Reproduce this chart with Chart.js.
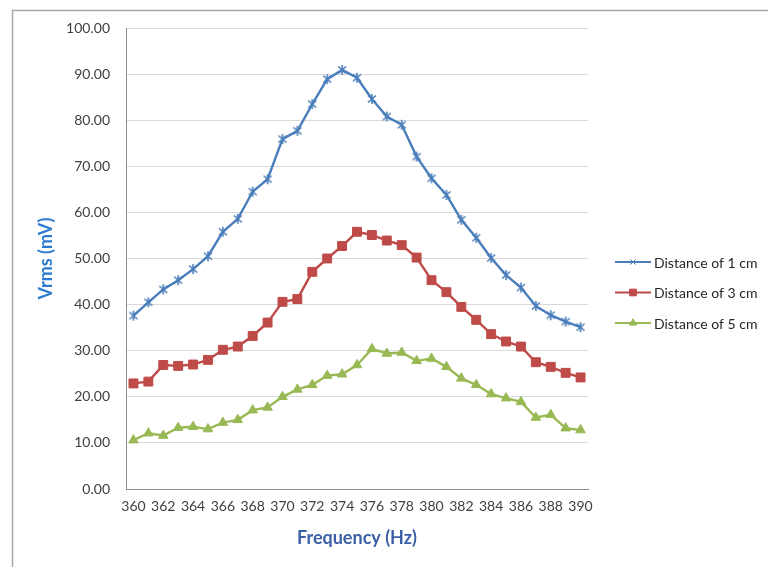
<!DOCTYPE html>
<html>
<head>
<meta charset="utf-8">
<title>Vrms vs Frequency</title>
<script src="https://cdn.jsdelivr.net/npm/chart.js@4/dist/chart.umd.min.js"></script>
<style>
  html, body { margin: 0; padding: 0; background: #fff; }
  #wrap { position: relative; width: 768px; height: 567px; }
</style>
</head>
<body>
<div id="wrap"><canvas id="chart" width="768" height="567"></canvas></div>
<script>
// frequency in Hz, one point per Hz
const frequencies = [360, 361, 362, 363, 364, 365, 366, 367, 368, 369, 370, 371, 372, 373, 374, 375,
  376, 377, 378, 379, 380, 381, 382, 383, 384, 385, 386, 387, 388, 389, 390];

// Vrms in mV
const dist1cm = [37.6, 40.5, 43.3, 45.3, 47.7, 50.5, 55.8, 58.6, 64.5, 67.2, 75.9, 77.7, 83.5, 88.9, 90.9, 89.2,
  84.6, 80.8, 79.0, 72.1, 67.4, 63.8, 58.4, 54.5, 50.1, 46.4, 43.7, 39.7, 37.7, 36.3, 35.1];
const dist3cm = [22.9, 23.3, 26.9, 26.7, 27.0, 28.0, 30.2, 30.9, 33.2, 36.1, 40.6, 41.2, 47.1, 50.0, 52.7, 55.8,
  55.1, 53.9, 52.9, 50.2, 45.3, 42.7, 39.5, 36.7, 33.6, 32.0, 30.9, 27.5, 26.5, 25.2, 24.2];
const dist5cm = [10.6, 12.1, 11.6, 13.3, 13.5, 13.0, 14.4, 15.0, 17.1, 17.7, 20.0, 21.6, 22.6, 24.6, 24.9, 26.9,
  30.4, 29.4, 29.6, 27.8, 28.3, 26.5, 24.0, 22.6, 20.6, 19.7, 18.9, 15.5, 16.1, 13.2, 12.8];

const seriesLabels = ['Distance of 1 cm', 'Distance of 3 cm', 'Distance of 5 cm'];
const yTicks = { min: 0, max: 100, step: 10 };

const FONT = 'Lato, "Open Sans", sans-serif';

// Excel "star" marker: an x with a vertical bar through it
function starMarker(color, size) {
  const c = document.createElement('canvas');
  c.width = c.height = size;
  const g = c.getContext('2d');
  const m = size / 2, r = size / 2 - 1;
  g.strokeStyle = color;
  g.lineWidth = 1.6;
  g.beginPath();
  g.moveTo(m - r * 0.8, m - r * 0.7); g.lineTo(m + r * 0.8, m + r * 0.7);
  g.moveTo(m + r * 0.8, m - r * 0.7); g.lineTo(m - r * 0.8, m + r * 0.7);
  g.moveTo(m, m - r); g.lineTo(m, m + r);
  g.stroke();
  return c;
}

// grey outline round the whole chart, as in the screenshot
const framePlugin = {
  id: 'frame',
  beforeDraw(chart) {
    const ctx = chart.ctx;
    ctx.save();
    ctx.fillStyle = '#fff';
    ctx.fillRect(0, 0, chart.width, chart.height);
    ctx.strokeStyle = '#a6a6a6';
    ctx.lineWidth = 1.5;
    ctx.strokeRect(12.5, 10.5, 900, 700);
    ctx.restore();
  }
};

// Excel-style legend: line sample with the marker in the middle
const sideLegend = {
  id: 'sideLegend',
  afterDraw(chart) {
    const ctx = chart.ctx;
    ctx.save();
    chart.data.datasets.forEach((ds, i) => {
      const y = 262 + i * 30.5;
      ctx.strokeStyle = ds.borderColor;
      ctx.lineWidth = 2;
      ctx.beginPath();
      ctx.moveTo(615, y);
      ctx.lineTo(651, y);
      ctx.stroke();
      ctx.fillStyle = ds.pointBackgroundColor;
      ctx.strokeStyle = ds.pointBorderColor;
      ctx.lineWidth = 1;
      Chart.helpers.drawPoint(ctx, {
        pointStyle: ds.legendStyle, rotation: 0, radius: ds.pointRadius * 0.75,
        borderWidth: 1
      }, 633, y);
      ctx.fillStyle = '#262626';
      ctx.font = '14px ' + FONT;
      ctx.textBaseline = 'middle';
      ctx.fillText(ds.label, 654, y + 1);
    });
    ctx.restore();
  }
};

function series(label, data, color, style, radius) {
  return {
    label, data,
    borderColor: color, backgroundColor: color,
    pointBackgroundColor: color, pointBorderColor: color,
    pointStyle: style === 'star' ? starMarker(color, 12) : style, legendStyle: style === 'star' ? 'crossRot' : style,
    pointRadius: radius, pointBorderWidth: 1,
    borderWidth: 2.4, tension: 0
  };
}

new Chart(document.getElementById('chart'), {
  type: 'line',
  data: {
    labels: frequencies,
    datasets: [
      series(seriesLabels[0], dist1cm, '#4a7ebb', 'star', 5),
      series(seriesLabels[1], dist3cm, '#be4b48', 'rect', 6.3),
      series(seriesLabels[2], dist5cm, '#98b954', 'triangle', 5.5),
    ],
  },
  options: {
    responsive: false,
    animation: false,
    devicePixelRatio: 1,
    layout: { padding: { top: 28, right: 180, bottom: 0, left: 0 } },
    plugins: { legend: { display: false }, tooltip: { enabled: false } },
    scales: {
      x: {
        offset: true,
        grid: { display: false, drawTicks: false },
        border: { display: true, color: '#8c8c8c', width: 1 },
        ticks: {
          autoSkip: false, maxRotation: 0, padding: 9, color: '#404040',
          font: { family: FONT, size: 14 },
          callback: (v, i) => (frequencies[i] % 2 === 0 ? String(frequencies[i]) : ''),
        },
        title: {
          display: true, text: 'Frequency (Hz)', color: '#3a5fa6',
          font: { family: FONT, size: 18, weight: 'bold' }, padding: { top: 0, bottom: 18 },
        },
        afterFit: (s) => { s.height = 78; },
      },
      y: {
        min: yTicks.min, max: yTicks.max,
        grid: { color: '#d9d9d9', lineWidth: 1, drawTicks: false },
        border: { display: true, color: '#8c8c8c', width: 1 },
        ticks: {
          stepSize: yTicks.step, padding: 16, color: '#404040',
          font: { family: FONT, size: 14 },
          callback: (v) => Number(v).toFixed(2),
        },
        title: {
          display: true, text: 'Vrms (mV)', color: '#2c7bd0',
          font: { family: FONT, size: 18, weight: 'bold' }, padding: { top: 35, bottom: 0 },
        },
        afterFit: (s) => { s.width = 126; },
      },
    },
  },
  plugins: [framePlugin, sideLegend],
});
</script>
</body>
</html>
